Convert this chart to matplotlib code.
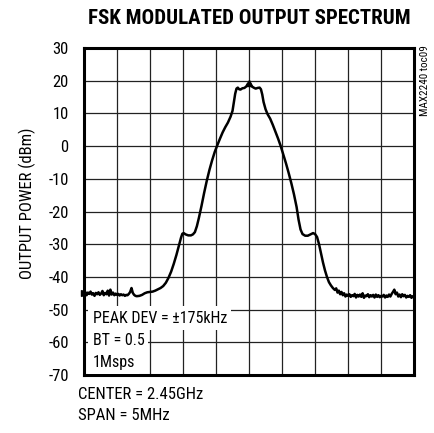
import matplotlib
matplotlib.use("Agg")
import matplotlib.pyplot as plt

plt.rcParams['font.family'] = ['Roboto Condensed', 'DejaVu Sans']
plt.rcParams['axes.unicode_minus'] = False

# frequency offset from center (MHz) and output power (dBm)
freq = [-2.50, -2.48, -2.46, -2.44, -2.42, -2.40, -2.38, -2.36, -2.34, -2.32,
        -2.30, -2.28, -2.26, -2.24, -2.22, -2.20, -2.18, -2.16, -2.14, -2.12,
        -2.10, -2.08, -2.06, -2.04, -2.02, -2.00, -1.98, -1.96, -1.94, -1.92,
        -1.90, -1.88, -1.86, -1.84, -1.82, -1.80, -1.78, -1.76, -1.74, -1.72,
        -1.70, -1.66, -1.62, -1.58, -1.54, -1.50, -1.46, -1.42, -1.38, -1.34,
        -1.30, -1.26, -1.22, -1.18, -1.14, -1.10, -1.06, -1.03, -1.01, -0.99,
        -0.96, -0.92, -0.88, -0.85, -0.82, -0.79, -0.76, -0.72, -0.68, -0.64,
        -0.60, -0.56, -0.52, -0.48, -0.44, -0.40, -0.36, -0.32, -0.28, -0.25,
        -0.23, -0.21, -0.19, -0.17, -0.15, -0.13, -0.10, -0.07, -0.04, -0.02,
        0.00, 0.02, 0.04, 0.07, 0.10, 0.13, 0.16, 0.18, 0.20, 0.22,
        0.25, 0.28, 0.32, 0.36, 0.40, 0.44, 0.48, 0.52, 0.56, 0.60,
        0.64, 0.68, 0.72, 0.75, 0.78, 0.81, 0.85, 0.89, 0.93, 0.97,
        1.00, 1.03, 1.06, 1.09, 1.12, 1.15, 1.18, 1.21, 1.24, 1.27,
        1.30, 1.32, 1.34, 1.36, 1.38, 1.40, 1.42, 1.44, 1.46, 1.48,
        1.50, 1.52, 1.54, 1.56, 1.58, 1.60, 1.62, 1.64, 1.66, 1.68,
        1.70, 1.72, 1.74, 1.76, 1.78, 1.80, 1.82, 1.84, 1.86, 1.88,
        1.90, 1.92, 1.94, 1.96, 1.98, 2.00, 2.02, 2.04, 2.06, 2.08,
        2.10, 2.12, 2.14, 2.16, 2.18, 2.20, 2.22, 2.24, 2.26, 2.28,
        2.30, 2.32, 2.34, 2.36, 2.38, 2.40, 2.42, 2.44, 2.46, 2.48, 2.50]

power = [-45.3, -44.6, -45.6, -44.8, -45.2, -44.5, -45.4, -45.0, -45.8, -44.9,
         -45.3, -44.7, -45.5, -45.1, -44.3, -45.6, -44.9, -45.3, -44.2, -45.7,
         -43.9, -45.4, -44.8, -45.6, -45.1, -45.5, -45.2, -45.7, -45.3, -45.6,
         -45.4, -45.8, -45.5, -45.6, -45.2, -44.6, -43.4, -44.9, -45.5, -45.8,
         -45.9, -45.8, -45.5, -45.0, -44.7, -44.6, -44.5, -44.2, -43.8, -43.4,
         -42.8, -41.8, -40.3, -38.4, -36.0, -33.3, -30.3, -28.0, -26.8, -26.6,
         -27.0, -27.3, -27.3, -27.0, -26.3, -24.5, -22.0, -18.3, -14.3, -10.6,
         -7.3, -4.4, -1.8, 0.3, 2.3, 4.2, 5.8, 7.2, 9.0, 10.8,
         13.5, 16.0, 17.6, 17.9, 17.4, 17.3, 17.7, 17.8, 18.3, 19.0,
         19.4, 19.0, 18.3, 17.9, 17.6, 17.8, 17.9, 17.4, 15.8, 13.5,
         11.3, 9.8, 8.4, 6.5, 4.4, 2.3, 0.0, -2.6, -5.3, -8.2,
         -11.3, -14.7, -18.6, -22.5, -25.5, -26.9, -27.4, -27.4, -27.0, -26.6,
         -26.9, -27.8, -30.0, -32.8, -35.6, -38.0, -40.0, -41.6, -42.6, -43.4,
         -44.0, -43.5, -44.8, -44.2, -45.3, -44.6, -45.6, -45.0, -46.0, -45.4,
         -45.8, -45.3, -46.1, -45.6, -45.9, -45.2, -46.3, -45.5, -46.0, -45.4,
         -46.1, -45.0, -46.4, -45.7, -45.9, -45.3, -46.2, -45.6, -46.0, -45.5,
         -46.3, -45.4, -46.1, -45.6, -46.2, -45.8, -46.0, -45.5, -46.3, -45.7,
         -46.1, -45.4, -46.0, -45.2, -44.6, -43.9, -45.3, -44.8, -46.0, -45.4,
         -46.2, -45.3, -45.9, -45.5, -46.3, -45.8, -46.1, -45.6, -46.4, -45.9, -46.2]

x_grid = [-2.5, -2.0, -1.5, -1.0, -0.5, 0.0, 0.5, 1.0, 1.5, 2.0, 2.5]
y_ticks = [-70, -60, -50, -40, -30, -20, -10, 0, 10, 20, 30]
notes = ["PEAK DEV = \u00b1175kHz", "BT = 0.5", "1Msps"]
note_y = [-52.6, -59.6, -66.2]

fig = plt.figure(figsize=(4.35, 4.33), dpi=100)
ax = fig.add_axes([0.193, 0.134, 0.759, 0.755])

ax.plot(freq, power, color='black', linewidth=1.8, zorder=3)
ax.plot([0.0], [19.4], marker='^', markersize=4, color='black', zorder=4)
ax.plot([-2.5], [-45], marker='>', markersize=4, color='black', zorder=4, clip_on=False)

ax.set_xlim(-2.5, 2.5)
ax.set_ylim(-70, 30)
ax.set_xticks(x_grid)
ax.set_yticks(y_ticks)
ax.set_xticklabels([])
ax.tick_params(axis='both', length=0, labelsize=12, pad=11)
ax.grid(True, color='#222222', linewidth=0.9)
ax.set_axisbelow(True)
for s in ax.spines.values():
    s.set_linewidth(2.2)

# notes inside the plot
for t, yv in zip(notes, note_y):
    ax.text(-2.37, yv, t, fontsize=11.5, va='center', ha='left',
            bbox=dict(facecolor='white', edgecolor='none', pad=3), zorder=5)

fig.text(0.572, 0.958, "FSK MODULATED OUTPUT SPECTRUM", ha='center', va='center',
         fontsize=15, fontweight='black')
fig.text(0.064, 0.531, "OUTPUT POWER (dBm)", rotation=90, ha='center', va='center',
         fontsize=12)
fig.text(0.179, 0.088, "CENTER = 2.45GHz", ha='left', va='center', fontsize=12)
fig.text(0.179, 0.041, "SPAN = 5MHz", ha='left', va='center', fontsize=12)
fig.text(0.977, 0.896, "MAX2240 toc09", rotation=90, ha='center', va='top',
         fontsize=8)

fig.savefig("out.png", dpi=100)
